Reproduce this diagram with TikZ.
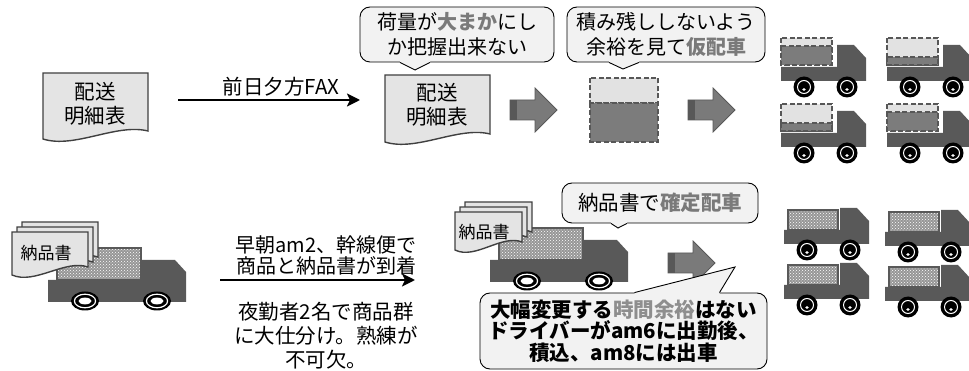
\documentclass[tikz,border=0pt]{standalone}
\usepackage{fontspec}
\setmainfont{Noto Sans CJK JP}
\usetikzlibrary{arrows.meta}
\usetikzlibrary{calc}
\usetikzlibrary{patterns}
\pgfdeclarelayer{artlayer}
\pgfsetlayers{artlayer,main}
\definecolor{paperfill}{HTML}{E4E4E4}
\definecolor{paperline}{HTML}{404040}
\definecolor{notefill}{HTML}{F2F2F2}
\definecolor{truckbody}{HTML}{595959}
\definecolor{loadlight}{HTML}{E2E2E2}
\definecolor{loadmid}{HTML}{7C7C7C}
\definecolor{loadline}{HTML}{575757}
\definecolor{goods}{HTML}{969696}
\definecolor{blockfill}{HTML}{7A7A7A}
\definecolor{blockdark}{HTML}{585858}
\definecolor{accent}{HTML}{7A7A7A}
\definecolor{softgray}{HTML}{8E8E8E}
\newcommand\hilite[1]{\textbf{\textcolor{accent}{#1}}}
\tikzstyle{caption}=[inner sep=0pt, align=center, font=\fontsize{20.5pt}{24pt}\selectfont]
\tikzstyle{slipcaption}=[inner sep=0pt, font=\fontsize{17pt}{20pt}\selectfont]
\tikzstyle{note}=[rectangle, rounded corners=10pt, fill=notefill, draw=black, line width=0.9pt, inner sep=0pt, align=center]
\tikzstyle{noteline}=[draw=black, line width=0.9pt, line join=miter]
\tikzstyle{flow}=[-{Stealth[length=13pt,width=13pt,inset=3pt]}, line width=2.2pt, draw=black]
\tikzstyle{paper}=[fill=paperfill, draw=paperline, line width=1.4pt]
\tikzstyle{dashedload}=[draw=loadline, line width=1.8pt, dash pattern=on 5pt off 2.5pt]
\tikzset{
  pics/sheet/.style n args={2}{code={
    \filldraw[paper] (0,0) -- (#1,0) -- (#1,{#2-8})
      .. controls ({0.7*#1},{#2-16}) and ({0.3*#1},{#2+10}) .. (0,#2) -- cycle;
  }},
  pics/blockarrow/.style={code={
    \filldraw[fill=blockfill, draw=blockdark, line width=0.8pt]
      (0,12) -- (25,12) -- (25,0) -- (47,22) -- (25,44) -- (25,32) -- (0,32) -- cycle;
    \fill[blockdark] (0.4,12.4) rectangle (7,31.6);
  }},
  pics/lorry/.style={code={
    \fill[truckbody] (0,22) -- (56,22) -- (56,0) -- (73,0) -- (85,13) -- (85,36) -- (0,36) -- cycle;
    \foreach \wx in {23,66} {
      \fill[black] (\wx,42) circle (10.5);
      \draw[white, line width=1pt] (\wx,42) circle (6.5);
      \fill[white] (\wx,44.5) ellipse (1.8 and 1.4);
    }
  }},
  pics/tentative/.style={code={
    \pic {lorry};
    \filldraw[fill=loadlight, dashedload] (0,-7) rectangle (51,20);
    \filldraw[fill=loadmid, dashedload] (0,#1) rectangle (51,20);
  }},
  pics/loaded/.style={code={
    \pic {lorry};
    \fill[goods] (4,2) rectangle (54,22);
    \fill[pattern=crosshatch dots, pattern color=white] (4,2) rectangle (54,22);
    \draw[truckbody, line width=1.6pt] (4,2) rectangle (54,22);
  }},
  pics/bigtruck/.style={code={
    \fill[truckbody] (0,20) -- (94,20) -- (94,0) -- (127,0) -- (138,12) -- (138,42) -- (0,42) -- cycle;
    \fill[goods] (9,-12) rectangle (93,20);
    \fill[pattern=crosshatch dots, pattern color=white] (9,-12) rectangle (93,20);
    \draw[truckbody, line width=1.8pt] (9,-12) rectangle (93,20);
    \foreach \wx in {37,109} {
      \fill[black] (\wx,41) ellipse (14 and 9.5);
      \draw[white, line width=1.2pt] (\wx,41) ellipse (10.6 and 6.8);
      \fill[white] (\wx,41) ellipse (6.5 and 3.4);
    }
  }}
}

\begin{document}
\begin{tikzpicture}[x=1pt, y=-1pt]
	\useasboundingbox (0,0) rectangle (969,371);
	\begin{pgfonlayer}{artlayer}
		% lists sent by fax the day before
		\pic at (43,73) {sheet={105}{66}};
		\pic at (385,75) {sheet={105}{67}};
		\pic at (510,88) {blockarrow};
		% load estimate with spare room
		\filldraw[fill=loadlight, dashedload] (590,78) rectangle (658,103);
		\filldraw[fill=loadmid, dashedload] (590,103) rectangle (658,142);
		\pic at (688,88) {blockarrow};
		\pic at (781,45) {tentative=1};
		\pic at (887,45) {tentative=12};
		\pic at (781,111) {tentative=12};
		\pic at (887,111) {tentative=1};
		% trunk line arrival with delivery slips
		\pic at (48,260) {bigtruck};
		\pic at (22,222) {sheet={76}{43}};
		\pic at (17,227) {sheet={76}{43}};
		\pic at (12,232) {sheet={76}{43}};
		\pic at (490,240) {bigtruck};
		\pic at (465,202) {sheet={67}{38}};
		\pic at (460,207) {sheet={67}{38}};
		\pic at (455,212) {sheet={67}{38}};
		\pic at (668,241) {blockarrow};
		\pic at (784,208) {loaded};
		\pic at (885,210) {loaded};
		\pic at (784,263) {loaded};
		\pic at (885,265) {loaded};
	\end{pgfonlayer}

	\node [style=caption] (list1) at (95,104) {配送\\明細表};
	\node [style=caption] (list2) at (437,105) {配送\\明細表};
	\node [style=caption] (faxnote) at (281,87) {前日夕方FAX};
	\coordinate (fax0) at (178,100);
	\coordinate (fax1) at (360,100);
	\draw [style=flow] (fax0) -- (fax1);

	\node [style=slipcaption] (slip1) at (46,253) {納品書};
	\node [style=slipcaption] (slip2) at (484,232) {納品書};
	\node [style=caption, font=\fontsize{20pt}{21pt}\selectfont] (arrival) at (326,255) {早朝am2、幹線便で\\商品と納品書が到着};
	\node [style=caption] (sorting) at (326,336) {夜勤者2名で商品群\\に大仕分け。熟練が\\不可欠。};
	\coordinate (trunk0) at (220,280);
	\coordinate (trunk1) at (415,280);
	\draw [style=flow] (trunk0) -- (trunk1);

	% speech bubbles
	\node [style=note, minimum width=194pt, minimum height=55pt, font=\fontsize{20pt}{25pt}\selectfont] (note1) at (457,34.5) {荷量が\hilite{大まか}にし\\か把握出来ない};
	\node [style=note, minimum width=198pt, minimum height=55pt, font=\fontsize{20pt}{25pt}\selectfont] (note2) at (666,34.5) {積み残ししないよう\\余裕を見て\hilite{仮配車}};
	\node [style=note, minimum width=196pt, minimum height=40pt, font=\fontsize{20.5pt}{24pt}\selectfont] (note3) at (660,203) {納品書で\hilite{確定配車}};
	\node [style=note, minimum width=287pt, minimum height=76pt, font=\bfseries\fontsize{20.5pt}{21.5pt}\selectfont] (note4) at (623.5,331) {大幅変更する\textcolor{softgray}{時間余裕}はない\\ドライバーがam6に出勤後、\\積込、am8には出車};

	\coordinate (tip1) at (415,70);
	\coordinate (tip2) at (623,69);
	\coordinate (tip3) at (618,228);
	\coordinate (tip4) at (735,267);
	\fill [notefill] ($(note1.south)+(-57,-2)$) -- ($(note1.south)+(-57,0)$) -- (tip1) -- ($(note1.south)+(-27,0)$) -- ($(note1.south)+(-27,-2)$) -- cycle;
	\draw [style=noteline] ($(note1.south)+(-57,0)$) -- (tip1) -- ($(note1.south)+(-27,0)$);
	\fill [notefill] ($(note2.south)+(-57,-2)$) -- ($(note2.south)+(-57,0)$) -- (tip2) -- ($(note2.south)+(-27,0)$) -- ($(note2.south)+(-27,-2)$) -- cycle;
	\draw [style=noteline] ($(note2.south)+(-57,0)$) -- (tip2) -- ($(note2.south)+(-27,0)$);
	\fill [notefill] ($(note3.south)+(-49,-2)$) -- ($(note3.south)+(-49,0)$) -- (tip3) -- ($(note3.south)+(-33,0)$) -- ($(note3.south)+(-33,-2)$) -- cycle;
	\draw [style=noteline] ($(note3.south)+(-49,0)$) -- (tip3) -- ($(note3.south)+(-33,0)$);
	\fill [notefill] ($(note4.north)+(11,2)$) -- ($(note4.north)+(11,0)$) -- (tip4) -- ($(note4.north)+(96,0)$) -- ($(note4.north)+(96,2)$) -- cycle;
	\draw [style=noteline] ($(note4.north)+(11,0)$) -- (tip4) -- ($(note4.north)+(96,0)$);
\end{tikzpicture}
\end{document}
